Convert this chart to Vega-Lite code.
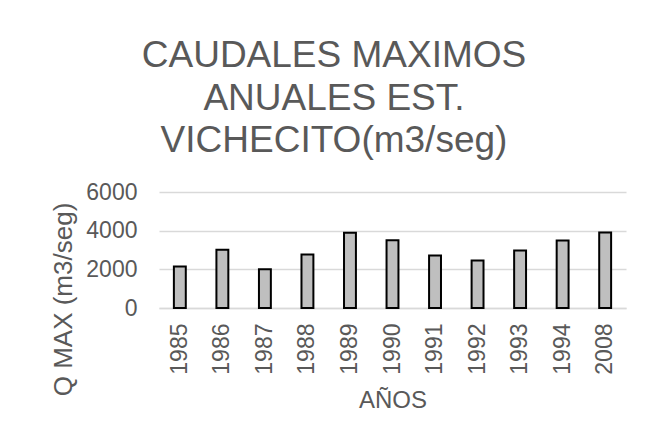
{
  "$schema": "https://vega.github.io/schema/vega-lite/v6.json",
  "width": 467,
  "height": 116,
  "autosize": "none",
  "padding": {"left": 159, "top": 192, "right": 44, "bottom": 133},
  "background": "white",
  "title": {
    "text": ["CAUDALES MAXIMOS", "ANUALES EST.", "VICHECITO(m3/seg)"],
    "font": "Liberation Sans",
    "fontSize": 37,
    "fontWeight": "normal",
    "color": "#595959",
    "lineHeight": 42.5,
    "anchor": "middle",
    "frame": "group",
    "baseline": "bottom",
    "offset": 34,
    "dx": -58.5,
    "dy": 50
  },
  "data": {
    "values": [
      {"year": "1985", "q": 2150},
      {"year": "1986", "q": 3010},
      {"year": "1987", "q": 2010},
      {"year": "1988", "q": 2770},
      {"year": "1989", "q": 3890},
      {"year": "1990", "q": 3510},
      {"year": "1991", "q": 2715},
      {"year": "1992", "q": 2455},
      {"year": "1993", "q": 2975},
      {"year": "1994", "q": 3490},
      {"year": "2008", "q": 3905}
    ]
  },
  "mark": {"type": "bar", "fill": "#bfbfbf", "stroke": "black", "strokeWidth": 2},
  "encoding": {
    "x": {
      "field": "year",
      "type": "nominal",
      "sort": null,
      "scale": {"paddingInner": 0.72, "paddingOuter": 0.35},
      "axis": {
        "title": "AÑOS",
        "titleFont": "Liberation Sans",
        "titleFontSize": 24,
        "titleFontWeight": "normal",
        "titleColor": "#595959",
        "titleBaseline": "alphabetic",
        "titleY": 99,
        "labelAngle": -90,
        "labelFont": "Liberation Sans",
        "labelFontSize": 23,
        "labelColor": "#595959",
        "labelPadding": 15,
        "ticks": false,
        "domainColor": "#d9d9d9",
        "domainWidth": 1.5
      }
    },
    "y": {
      "field": "q",
      "type": "quantitative",
      "scale": {"domain": [0, 6000]},
      "axis": {
        "title": "Q MAX (m3/seg)",
        "titleFont": "Liberation Sans",
        "titleFontSize": 26,
        "titleFontWeight": "normal",
        "titleColor": "#595959",
        "titleAngle": -90,
        "titleAlign": "center",
        "titleBaseline": "middle",
        "titleX": -96,
        "titleY": 107,
        "values": [0, 2000, 4000, 6000],
        "format": "d",
        "labelFont": "Liberation Sans",
        "labelFontSize": 23,
        "labelColor": "#595959",
        "labelPadding": 22,
        "ticks": false,
        "domain": false,
        "gridColor": "#d9d9d9",
        "gridWidth": 1.5
      }
    }
  },
  "config": {"view": {"stroke": null}}
}
